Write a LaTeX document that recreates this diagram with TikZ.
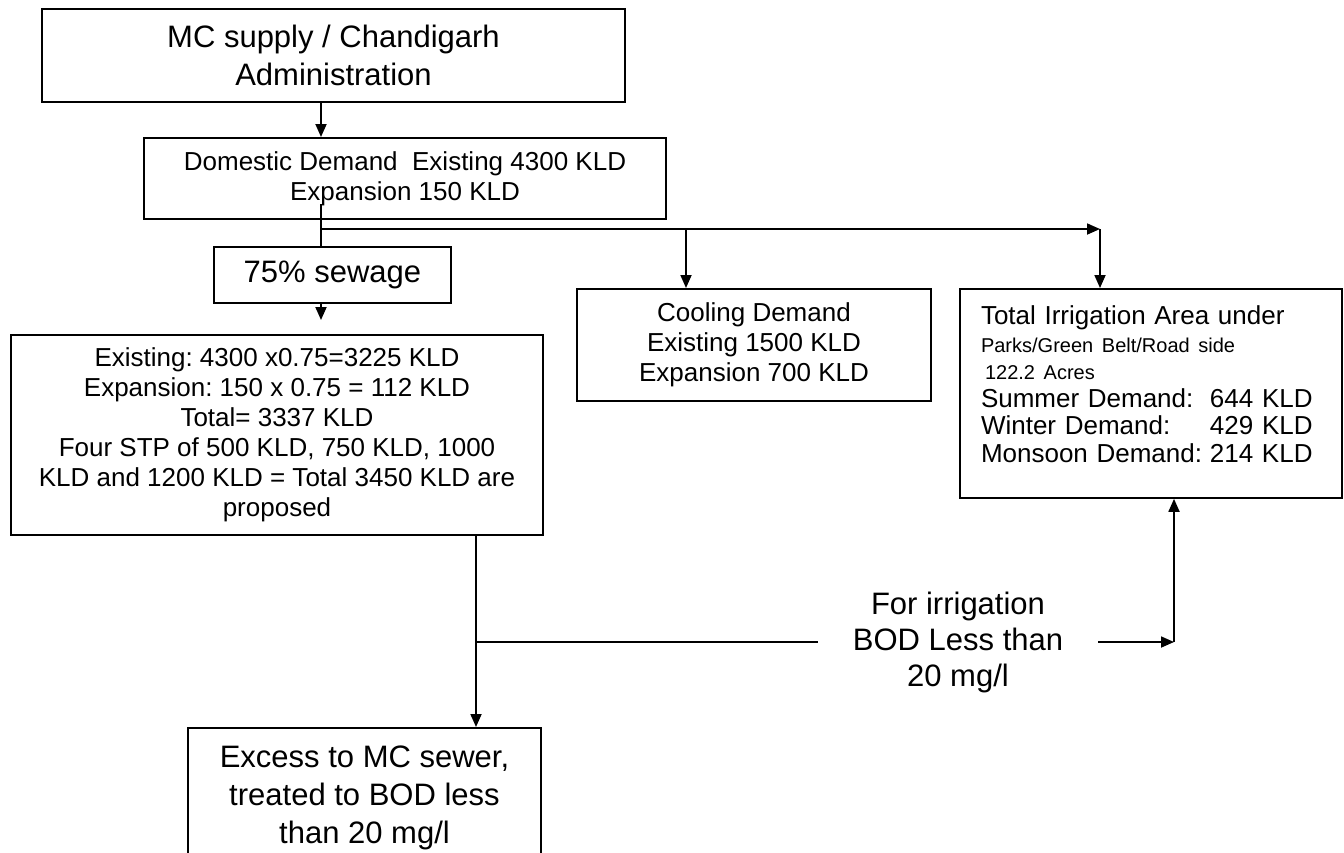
\documentclass[tikz,border=0pt]{standalone}
\usepackage{fontspec}
\setmainfont{Liberation Sans}
\usepackage{tikz}
\usetikzlibrary{positioning, arrows.meta}

\newcommand{\fbig}{\fontsize{31}{38}\selectfont}
\newcommand{\fmid}{\fontsize{26}{30}\selectfont}
\newcommand{\fsmall}{\fontsize{20}{24}\selectfont}
\frenchspacing

\begin{document}
\begin{tikzpicture} [x=1pt, y=-1pt,    box/.style={draw, rectangle, line width=2pt, align=center, anchor=north west},    line/.style={line width=1.8pt},    arrow/.style={-{Triangle[length=13pt, width=11pt]}, line width=1.8pt}]
        \useasboundingbox (0,0) rectangle (1344,852);
        \clip (0,0) rectangle (1344,852);

        % Nodes
        \node[box, font=\fbig, minimum width=583pt, minimum height=93pt] (mc) at (41,8) {MC supply / Chandigarh\\Administration};
        \node[box, font=\fmid, minimum width=522pt, minimum height=81pt, below right=34pt and 102pt of mc.south west] (dom) {Domestic Demand\ \ Existing 4300 KLD\\Expansion 150 KLD};
        \node[box, font=\fbig, minimum width=237pt, minimum height=56pt, below right=26pt and 70pt of dom.south west] (sew) {75\% sewage};
        \node[box, font=\fmid, minimum width=532pt, minimum height=200pt] (stp) at (10,334) {Existing: 4300 x0.75=3225 KLD\\Expansion: 150 x 0.75 = 112 KLD\\Total= 3337 KLD\\Four STP of 500 KLD, 750 KLD, 1000\\KLD and 1200 KLD = Total 3450 KLD are\\proposed};
        \node[box, font=\fbig, minimum width=353pt, minimum height=140pt, below right=191pt and 177pt of stp.south west] (exc) {Excess to MC sewer,\\treated to BOD less\\than 20 mg/l};
        \node[box, font=\fmid, minimum width=354pt, minimum height=112pt] (cool) at (576,288) {Cooling Demand\\Existing 1500 KLD\\Expansion 700 KLD};
        \node[box, font={\fontsize{26}{27.5}\selectfont}, align=left, text width=340pt, inner xsep=21pt, inner ysep=17pt, below right=0pt and 27pt of cool.north east] (irr) {Total Irrigation Area under\\{\fsmall Parks/Green Belt/Road side}\\{\fsmall\hspace*{4pt}122.2 Acres}\\\makebox[229pt][l]{Summer Demand:}644 KLD\\\makebox[229pt][l]{Winter Demand:}429 KLD\\\makebox[229pt][l]{Monsoon Demand:}214 KLD\rule[-18.5pt]{0pt}{18.5pt}};
        \node[font={\fontsize{31}{36}\selectfont}, align=center, inner xsep=35pt] (lbl) at (958,642) {For irrigation\\BOD Less than\\20 mg/l};

        % Arrows
        \coordinate (br) at (321,229);
        \coordinate (cbr) at (686,229);
        \coordinate (bend) at (1100,229);
        \coordinate (jn) at (476,642);
        \coordinate (kink) at (1174,642);
        \draw[arrow] (mc.south -| br) -- (dom.north -| br);
        \draw[line] ([yshift=16pt]dom.south -| br) -- (sew.north -| br);
        \draw[arrow] (br) -- (bend);
        \draw[arrow] (cbr) -- (cool.north -| cbr);
        \draw[arrow] (bend) -- (irr.north -| bend);
        \draw[arrow, shorten >=14pt] (sew.south -| br) -- (stp.north -| br);
        \draw[arrow] (stp.south -| jn) -- (exc.north -| jn);
        \draw[line] (jn) -- (lbl);
        \draw[arrow] (lbl) -- (kink);
        \draw[arrow] (kink) -- (irr.south -| kink);
    \end{tikzpicture}
\end{document}
